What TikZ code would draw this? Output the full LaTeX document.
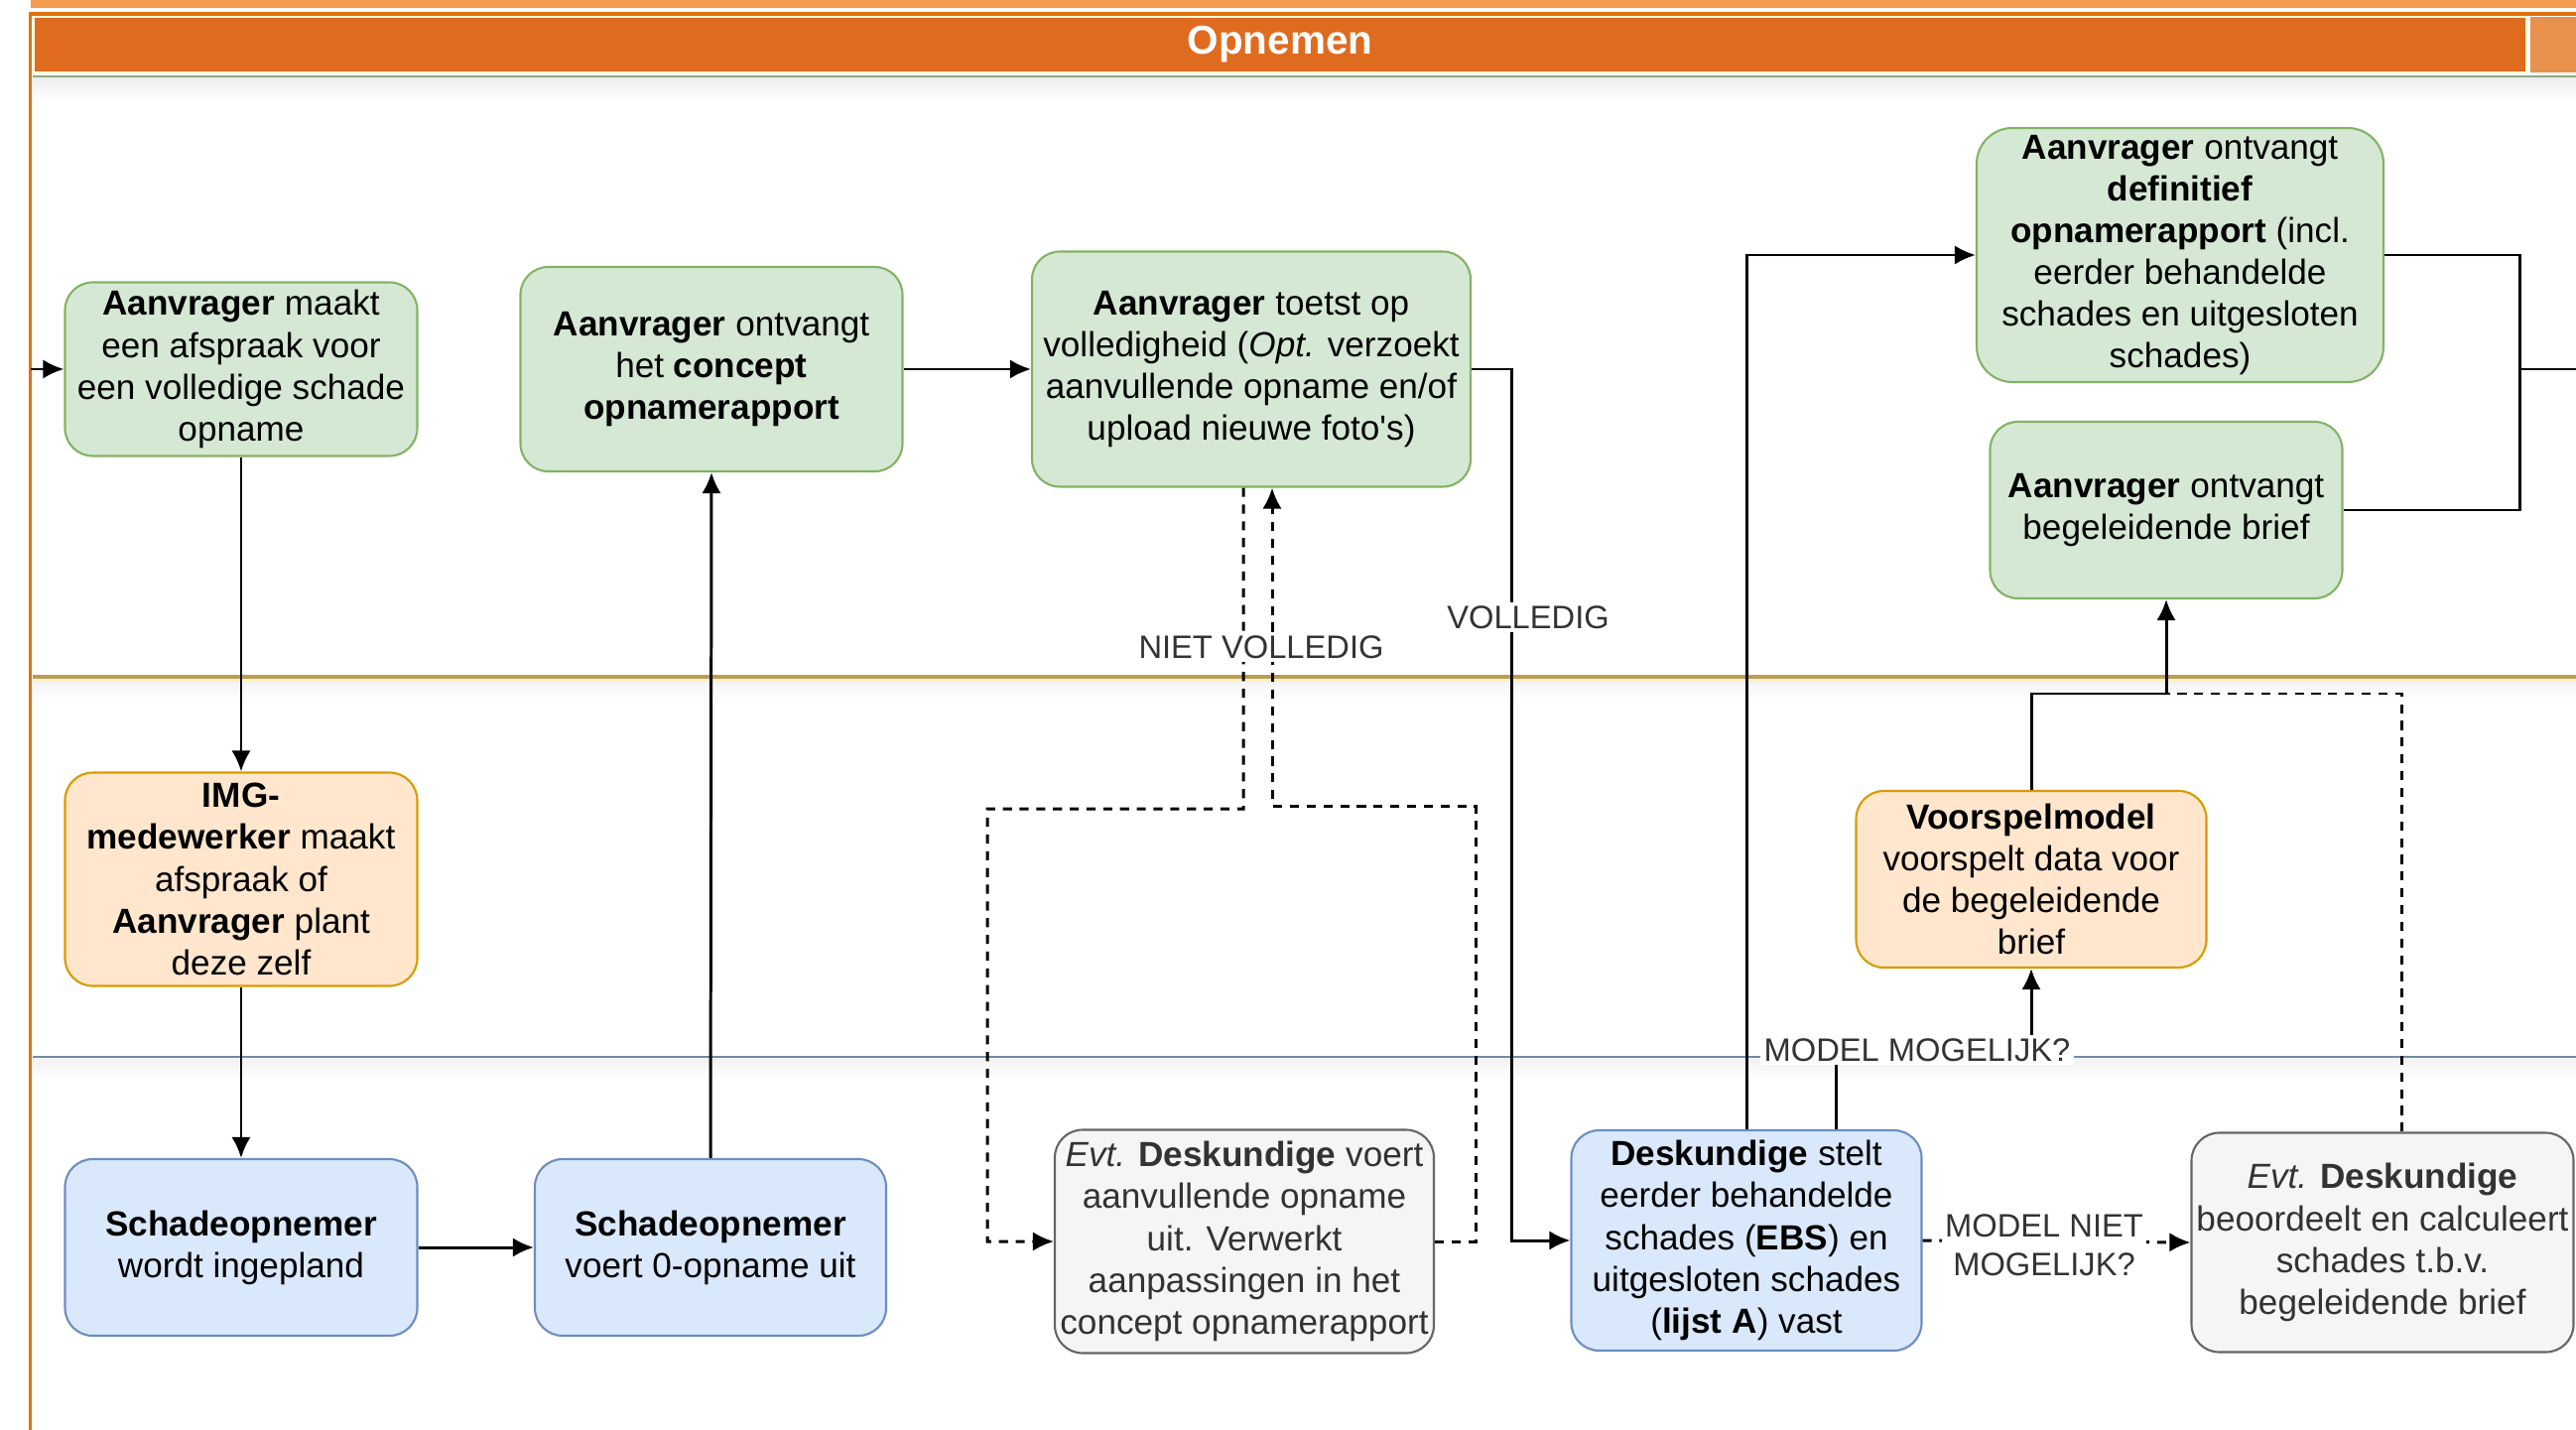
\documentclass[tikz,border=0pt]{standalone}
\usepackage{fontspec}
\setmainfont{Liberation Sans}
\usetikzlibrary{arrows.meta}

\definecolor{groenvul}{HTML}{D5E8D4}
\definecolor{groenrand}{HTML}{82B366}
\definecolor{oranjevul}{HTML}{FFE6CC}
\definecolor{oranjerand}{HTML}{D79B00}
\definecolor{blauwvul}{HTML}{DAE8FC}
\definecolor{blauwrand}{HTML}{6C8EBF}
\definecolor{grijsvul}{HTML}{F5F5F5}
\definecolor{grijsrand}{HTML}{666666}
\definecolor{grijstekst}{HTML}{333333}
\definecolor{kop}{HTML}{DF6B1F}
\definecolor{kopnaast}{HTML}{E8914C}
\definecolor{kopstrook}{HTML}{F39C50}
\definecolor{poolrand}{HTML}{E07010}
\definecolor{kopgrens}{HTML}{8DA888}
\definecolor{lijngoud}{HTML}{BE9B52}
\definecolor{lijngeel}{HTML}{FFF0C0}
\definecolor{lijnblauw}{HTML}{7189AA}

\newcommand{\boxfont}{\fontsize{10}{12}\selectfont}
\newcommand{\labelfont}{\fontsize{9.3}{11.2}\selectfont}

\tikzset{
  box/.style={draw, rounded corners=0.28cm, align=center, inner sep=0pt, line width=0.6pt, font=\boxfont},
  groen/.style={box, fill=groenvul, draw=groenrand},
  oranje/.style={box, fill=oranjevul, draw=oranjerand},
  blauw/.style={box, fill=blauwvul, draw=blauwrand},
  grijs/.style={box, fill=grijsvul, draw=grijsrand, text=grijstekst},
  pijl/.style={draw, line width=0.85pt, -{Latex[length=6pt,width=5.5pt]}},
  lijn/.style={draw, line width=0.85pt},
  stippel/.style={line width=0.85pt, dash pattern=on 2.6pt off 2.2pt},
  keuze/.style={fill=white, inner sep=1pt, font=\labelfont, text=grijstekst, align=center},
}

\begin{document}
\begin{tikzpicture}
\useasboundingbox (0,0) rectangle (25.96,-14.41);
\fill[white] (0,0) rectangle (25.96,-14.41);

% pool en lanes
\fill[kopstrook] (0.31,0) rectangle (25.96,-0.08);
\draw[poolrand, line width=0.9pt] (25.96,-0.14) -- (0.305,-0.14) -- (0.305,-14.41);
\fill[kop] (0.34,-0.17) rectangle (25.46,-0.73);
\draw[white!85!yellow, line width=0.5pt] (0.34,-0.17) rectangle (25.46,-0.73);
\fill[kopnaast] (25.50,-0.17) rectangle (25.96,-0.73);
\node[font=\fontsize{11.5}{14}\selectfont\bfseries, text=white] (titel) at (12.90,-0.45) {Opnemen};
\draw[kopgrens, line width=0.6pt] (0.33,-0.77) -- (25.96,-0.77);
\shade[top color=black!7, bottom color=white] (0.33,-0.79) rectangle (25.96,-1.02);
\shade[top color=black!5, bottom color=white] (0.33,-6.84) rectangle (25.96,-7.05);
\shade[top color=black!5, bottom color=white] (0.33,-10.67) rectangle (25.96,-10.88);
\draw[lijngoud, line width=0.9pt] (0.33,-6.82) -- (25.96,-6.82);
\draw[lijngeel, line width=0.5pt] (0.33,-6.86) -- (25.96,-6.86);
\draw[lijnblauw, line width=0.8pt] (0.33,-10.65) -- (25.96,-10.65);

% stappen
\node[groen, minimum width=3.55cm, minimum height=1.75cm] (afspraak) at (2.43,-3.72)
  {\textbf{Aanvrager} maakt\\een afspraak voor\\een volledige schade\\opname};
\node[groen, minimum width=3.85cm, minimum height=2.06cm] (concept) at (7.17,-3.72)
  {\textbf{Aanvrager} ontvangt\\het \textbf{concept}\\\textbf{opnamerapport}};
\node[groen, minimum width=4.42cm, minimum height=2.37cm] (toetst) at (12.61,-3.72)
  {\textbf{Aanvrager} toetst op\\volledigheid (\textit{Opt.} verzoekt\\aanvullende opname en/of\\upload nieuwe foto\textquotesingle s)};
\node[groen, rounded corners=0.36cm, minimum width=4.10cm, minimum height=2.56cm] (definitief) at (21.97,-2.57)
  {\textbf{Aanvrager} ontvangt\\\textbf{definitief}\\\textbf{opnamerapport} (incl.\\eerder behandelde\\schades en uitgesloten\\schades)};
\node[groen, minimum width=3.55cm, minimum height=1.78cm] (brief) at (21.83,-5.14)
  {\textbf{Aanvrager} ontvangt\\begeleidende brief};
\node[oranje, minimum width=3.55cm, minimum height=2.15cm] (img) at (2.43,-8.86)
  {\textbf{IMG-}\\\textbf{medewerker} maakt\\afspraak of\\\textbf{Aanvrager} plant\\deze zelf};
\node[oranje, minimum width=3.53cm, minimum height=1.78cm] (voorspel) at (20.47,-8.86)
  {\textbf{Voorspelmodel}\\voorspelt data voor\\de begeleidende\\brief};
\node[blauw, minimum width=3.55cm, minimum height=1.78cm] (ingepland) at (2.43,-12.57)
  {\textbf{Schadeopnemer}\\wordt ingepland};
\node[blauw, minimum width=3.54cm, minimum height=1.78cm] (nulopname) at (7.16,-12.57)
  {\textbf{Schadeopnemer}\\voert 0-opname uit};
\node[grijs, minimum width=3.82cm, minimum height=2.25cm] (aanvullend) at (12.54,-12.51)
  {\textit{Evt.} \textbf{Deskundige} voert\\aanvullende opname\\uit. Verwerkt\\aanpassingen in het\\concept opnamerapport};
\node[blauw, minimum width=3.53cm, minimum height=2.22cm] (ebs) at (17.60,-12.50)
  {\textbf{Deskundige} stelt\\eerder behandelde\\schades (\textbf{EBS}) en\\uitgesloten schades\\(\textbf{lijst A}) vast};
\node[grijs, minimum width=3.85cm, minimum height=2.21cm] (calc) at (24.01,-12.52)
  {\textit{Evt.} \textbf{Deskundige}\\beoordeelt en calculeert\\schades t.b.v.\\begeleidende brief};

\coordinate (instart) at (0.31,-3.72);
\coordinate (volk) at (15.23,-3.72);
\coordinate (samen) at (21.83,-6.99);
\coordinate (uitA) at (25.39,-3.72);
\coordinate (uitB) at (25.96,-3.72);

% verbindingen
\draw[pijl] (instart) -- (afspraak.west);
\draw[pijl] (afspraak.south) -- (img.north);
\draw[pijl] (img.south) -- (ingepland.north);
\draw[pijl] (ingepland.east) -- (nulopname.west);
\draw[pijl] (nulopname.north) -- (concept.south);
\draw[pijl] (concept.east) -- (toetst.west);
\draw[pijl] (toetst.east) -- (volk) |- (ebs.west);
\draw[pijl, stippel] ([xshift=-0.08cm]toetst.south) -- (12.53,-8.15) -| (9.95,-12.51) -- (aanvullend.west);
\draw[pijl, stippel] (aanvullend.east) -| (14.87,-8.12) -| ([xshift=0.21cm]toetst.south);
\draw[pijl] (ebs.north) |- (definitief.west);
\draw[pijl] ([xshift=0.90cm]ebs.north) -- (18.50,-10.61) -| (voorspel.south);
\draw[pijl, stippel] (ebs.east) -- (calc.west);
\draw[pijl] (voorspel.north) |- (samen) -- (brief.south);
\draw[stippel] ([xshift=0.19cm]calc.north) |- (samen);
\draw[lijn] (definitief.east) -| (uitA) -- (uitB);
\draw[lijn] (brief.east) -| (uitA);

% labels
\node[keuze] (lvol) at (15.40,-6.22) {VOLLEDIG};
\node[keuze] (lniet) at (12.71,-6.52) {NIET VOLLEDIG};
\node[keuze] (lmog) at (19.32,-10.58) {MODEL MOGELIJK?};
\node[keuze] (lnietmog) at (20.60,-12.55) {MODEL NIET\\MOGELIJK?};
\end{tikzpicture}
\end{document}
